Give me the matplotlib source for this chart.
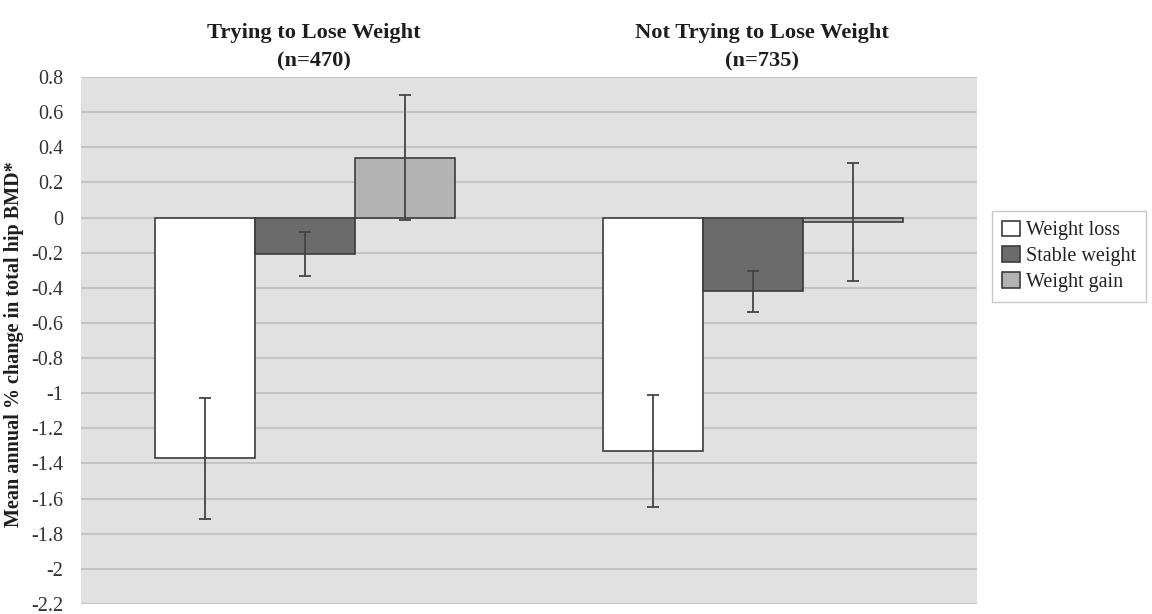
import numpy as np
import matplotlib.pyplot as plt

plt.rcParams['font.family'] = ['Liberation Serif', 'DejaVu Serif']

groups = ['Trying to Lose Weight\n(n=470)', 'Not Trying to Lose Weight\n(n=735)']
series = ['Weight loss', 'Stable weight', 'Weight gain']
loss = [-1.37, -1.33]
loss_err = [0.345, 0.32]
stable = [-0.21, -0.42]
stable_err = [0.125, 0.115]
gain = [0.34, -0.025]
gain_err = [0.355, 0.335]
yticks = [0.8, 0.6, 0.4, 0.2, 0, -0.2, -0.4, -0.6, -0.8, -1, -1.2, -1.4,
          -1.6, -1.8, -2, -2.2]

colors = ['#ffffff', '#6b6b6b', '#b3b3b3']

fig = plt.figure(figsize=(11.52, 6.14), dpi=100)
ax = fig.add_axes([0.0703, 0.0163, 0.7778, 0.8583])
ax.set_facecolor('#e1e1e1')

x = np.arange(len(groups))
w = 0.223
vals = [loss, stable, gain]
errs = [loss_err, stable_err, gain_err]
for i in range(3):
    ax.bar(x + (i - 1) * w, vals[i], w, color=colors[i], edgecolor='#3c3c3c',
           linewidth=1.2, label=series[i], zorder=2)
    ax.errorbar(x + (i - 1) * w, vals[i], yerr=errs[i], fmt='none',
                ecolor='#444444', elinewidth=1.3, capsize=4.5, capthick=1.3,
                zorder=3)

ax.set_xlim(-0.5, 1.5)
ax.set_ylim(-2.2, 0.8)
ax.set_yticks(yticks)
ax.set_yticklabels([('%g' % t) for t in yticks], fontsize=14.5, color='#333333')
ax.set_xticks([])
ax.tick_params(axis='y', length=0, pad=12.5)
ax.yaxis.grid(True, color='#c4c4c4', linewidth=1.5, zorder=0)
ax.set_axisbelow(True)
for s in ax.spines.values():
    s.set_visible(False)

for xi, g in zip(x, groups):
    ax.text(xi + 0.02, 0.832, g, ha='center', va='bottom', fontsize=16.2,
            fontweight='bold', color='#1e1e1e', linespacing=1.55)

# axis title sits left of the tick labels
fig.text(0.012, 0.44, 'Mean annual % change in total hip BMD*', rotation=90,
         ha='center', va='center', fontsize=14.5, fontweight='bold',
         color='#1e1e1e')

leg = fig.legend(loc='upper left', bbox_to_anchor=(0.861, 0.657), fontsize=14.5,
                 frameon=True, fancybox=False, edgecolor='#bbbbbb',
                 handlelength=0.9, handleheight=0.8, handletextpad=0.3,
                 labelspacing=0.3, borderpad=0.5, borderaxespad=0)
leg.get_frame().set_linewidth(1.0)
for t in leg.get_texts():
    t.set_color('#222222')

fig.savefig('out.png', dpi=100)
